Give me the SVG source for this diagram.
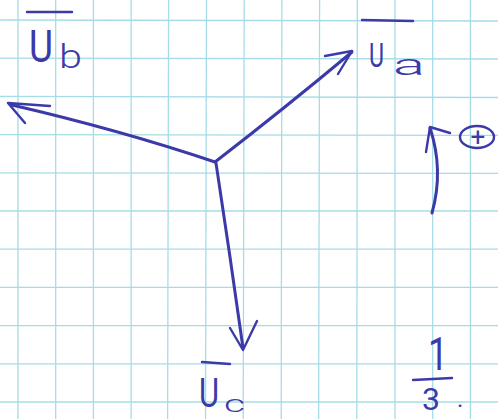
<svg xmlns="http://www.w3.org/2000/svg" width="498" height="419" viewBox="0 0 498 419">
<style>
.grid line{stroke:#a6dce6;stroke-width:1.3}
.pen{fill:none;stroke:#3c3aa8;stroke-width:3;stroke-linecap:round;stroke-linejoin:round}
.thin{fill:none;stroke:#3c3aa8;stroke-width:2.4;stroke-linecap:round;stroke-linejoin:round}
.lbl{font-family:Roboto,"Liberation Sans",Arial,sans-serif;font-weight:400;fill:#3c3aa8}
.sub{font-weight:300}
</style>
<rect width="498" height="419" fill="#ffffff"/>
<g class="grid">
<line x1="18" y1="0" x2="18" y2="419"/>
<line x1="55.7" y1="0" x2="55.7" y2="419"/>
<line x1="93.4" y1="0" x2="93.4" y2="419"/>
<line x1="131.1" y1="0" x2="131.1" y2="419"/>
<line x1="168.6" y1="0" x2="167.6" y2="419"/>
<line x1="206.5" y1="0" x2="205.5" y2="419"/>
<line x1="244.2" y1="0" x2="243.2" y2="419"/>
<line x1="281.9" y1="0" x2="281.2" y2="419"/>
<line x1="319.6" y1="0" x2="318.6" y2="419"/>
<line x1="357.3" y1="0" x2="356.8" y2="419"/>
<line x1="395" y1="0" x2="395" y2="419"/>
<line x1="432.7" y1="0" x2="432.7" y2="419"/>
<line x1="470.4" y1="0" x2="470.4" y2="419"/>
<line x1="0" y1="20" x2="498" y2="21"/>
<line x1="0" y1="58.2" x2="498" y2="59"/>
<line x1="0" y1="96.4" x2="498" y2="97.5"/>
<line x1="0" y1="134.6" x2="498" y2="135.4"/>
<line x1="0" y1="172.8" x2="498" y2="173.4"/>
<line x1="0" y1="211" x2="498" y2="211"/>
<line x1="0" y1="249.2" x2="498" y2="249.2"/>
<line x1="0" y1="287.4" x2="498" y2="287.4"/>
<line x1="0" y1="325.6" x2="498" y2="325.6"/>
<line x1="0" y1="363.8" x2="498" y2="363.8"/>
<line x1="0" y1="402" x2="498" y2="402"/>
</g>
<g id="connectors">
<g id="phasor-a">
<path class="pen" d="M215,162 Q285,108 352,52"/>
<path class="thin" d="M325,56 L352,51 L338,74"/>
</g>
<g id="phasor-b">
<path class="pen" d="M215,162 Q120,130 12,105"/>
<path class="thin" d="M50,106 L8,103 L25,123"/>
</g>
<g id="phasor-c">
<path class="pen" d="M216,163 Q230,255 243,348"/>
<path class="thin" d="M230,328 L243,350 L257,321"/>
</g>
</g>
<g id="label-Ub">
<line class="thin" x1="27" y1="12" x2="72" y2="12"/>
<text class="lbl"><tspan x="29" y="62" font-size="44" textLength="24" lengthAdjust="spacingAndGlyphs">U</tspan><tspan class="sub" x="59" y="68" font-size="34" textLength="23" lengthAdjust="spacingAndGlyphs">b</tspan></text>
</g>
<g id="label-Ua">
<line class="thin" x1="362" y1="20" x2="413" y2="21"/>
<text class="lbl"><tspan x="369" y="67" font-size="34" textLength="15" lengthAdjust="spacingAndGlyphs">U</tspan><tspan class="sub" x="393" y="75" font-size="30" textLength="32" lengthAdjust="spacingAndGlyphs">a</tspan></text>
</g>
<g id="label-Uc">
<line class="thin" x1="202" y1="362" x2="230" y2="364"/>
<text class="lbl"><tspan x="199" y="407" font-size="40" textLength="20" lengthAdjust="spacingAndGlyphs">U</tspan><tspan class="sub" x="224" y="412" font-size="24" textLength="21" lengthAdjust="spacingAndGlyphs">c</tspan></text>
</g>
<g id="rotation">
<path class="pen" d="M432,213 Q444,170 430,128"/>
<path class="thin" d="M426,152 L430,127 L450,133"/>
<ellipse class="thin" cx="477" cy="137" rx="17" ry="11"/>
<text class="lbl" x="478" y="146" font-size="26" text-anchor="middle">+</text>
</g>
<g id="fraction">
<text class="lbl" x="428" y="370" font-size="46" textLength="20" lengthAdjust="spacingAndGlyphs">1</text>
<line class="thin" x1="413" y1="380" x2="452" y2="378"/>
<text class="lbl" x="422" y="410" font-size="32" textLength="18" lengthAdjust="spacingAndGlyphs">3</text>
<text class="lbl" x="457" y="407" font-size="24" font-weight="700">.</text>
</g>
</svg>
